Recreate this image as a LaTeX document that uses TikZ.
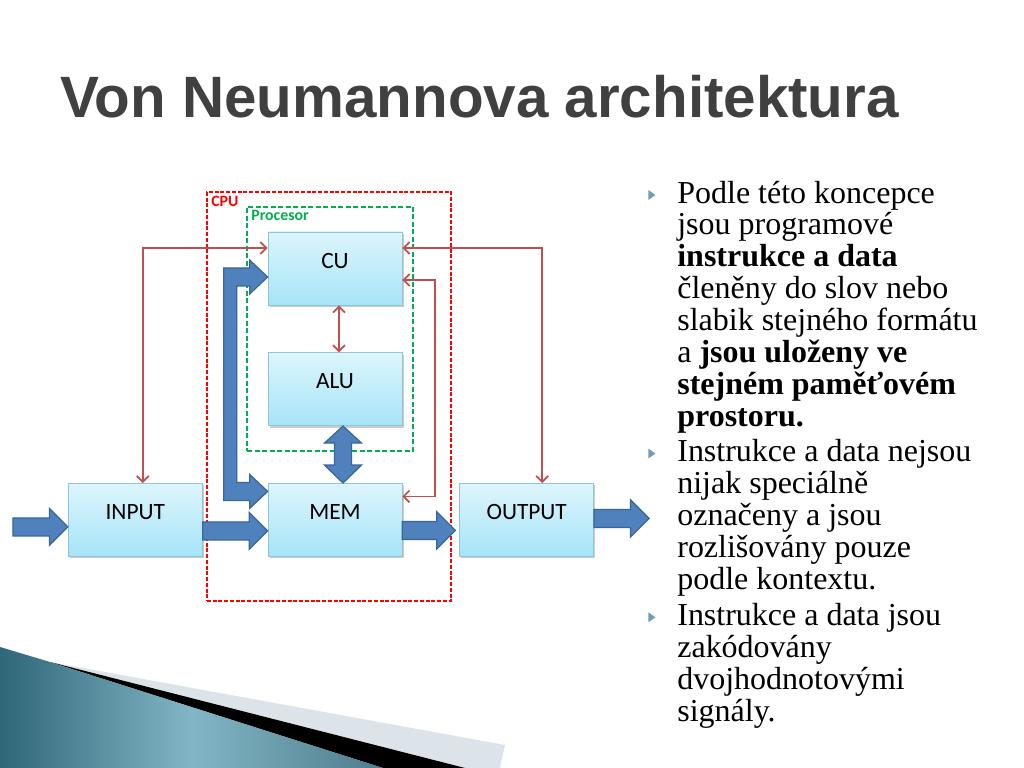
\documentclass[tikz,border=0pt]{standalone}
\usepackage{fontspec}
\setmainfont{Liberation Serif}
\newfontfamily\calibri{Carlito}
\newfontfamily\arialfont{Liberation Sans}
\usepackage{xcolor}
\usetikzlibrary{arrows.meta, positioning, calc, shadows, shapes.geometric}

\definecolor{boxtop}{HTML}{DDF5FC}
\definecolor{boxbot}{HTML}{A6E4F7}
\definecolor{boxline}{HTML}{8CC6DA}
\definecolor{sigred}{HTML}{C0504D}
\definecolor{busfill}{HTML}{4F81BD}
\definecolor{busline}{HTML}{3A6599}
\definecolor{cpured}{HTML}{FF0000}
\definecolor{procgreen}{HTML}{00B050}
\definecolor{titlegray}{HTML}{404040}
\definecolor{bulcol}{HTML}{6E9FB4}
\definecolor{tealdark}{HTML}{2F6678}
\definecolor{teallight}{HTML}{82B6C6}
\definecolor{bandgray}{HTML}{DCE4E9}

% fat horizontal arrow from #1 to the x of #2
\newcommand{\fatarrow}[2]{%
  \path[fat] let \p1=(#1), \p2=(#2) in
    ({\x1},{\y1+1.8mm}) -- ({\x2-3.7mm},{\y1+1.8mm}) -- ({\x2-3.7mm},{\y1+3.7mm})
    -- ({\x2},{\y1}) -- ({\x2-3.7mm},{\y1-3.7mm}) -- ({\x2-3.7mm},{\y1-1.8mm})
    -- ({\x1},{\y1-1.8mm}) -- cycle;}

\begin{document}
\begin{tikzpicture}[
        x=0.2mm, y=-0.2mm,
        box/.style={rectangle, draw=boxline, top color=boxtop, bottom color=boxbot, minimum width=26.8mm, minimum height=14.6mm, inner sep=0pt, text depth=3.2mm, font=\calibri\fontsize{13.3}{15}\selectfont, drop shadow={shadow xshift=0.3mm, shadow yshift=-0.4mm, fill=black, opacity=0.2}},
        cpubox/.style={rectangle, draw=cpured, line width=0.4mm, dash pattern=on 0.8mm off 0.35mm},
        procbox/.style={rectangle, draw=procgreen, line width=0.4mm, dash pattern=on 1mm off 0.5mm},
        tag/.style={anchor=north west, inner sep=0pt, font=\calibri\bfseries\fontsize{9}{10}\selectfont},
        sig/.style={draw=sigred, line width=0.35mm, {Straight Barb[length=1.2mm,width=2.4mm]}-{Straight Barb[length=1.2mm,width=2.4mm]}},
        fat/.style={fill=busfill, draw=busline, line width=0.25mm, line join=miter},
        title/.style={anchor=base, text=titlegray, font=\arialfont\bfseries\fontsize{33.2}{36}\selectfont},
        item/.style={align=left, anchor=north west, inner sep=0pt, font=\fontsize{18.2}{18.15}\selectfont},
        bul/.style={isosceles triangle, isosceles triangle apex angle=70, fill=bulcol, inner sep=0pt, minimum height=1.4mm}
    ]
        \useasboundingbox[fill=white] (0,0) rectangle (1024,768);

        % bottom swoosh
        \fill[bandgray] (50,662) -- (505,745) -- (500,768) -- (0,768) -- cycle;
        \fill[black] (50,662) -- (465,768) -- (383,768) -- cycle;
        \shade[left color=tealdark, right color=tealdark!85, middle color=teallight] (0,647) -- (50,662) -- (383,768) -- (0,768) -- cycle;

        \node [title] (head) at (479.5,118) {Von Neumannova architektura};

        % containers
        \node [cpubox, minimum width=48.8mm, minimum height=81.8mm] (cpu) at (329,396.5) {};
        \node [procbox, minimum width=33.2mm, minimum height=48.8mm] (proc) at (330,329) {};
        \node [tag, text=cpured] (cputag) at ([xshift=1mm,yshift=-0.9mm]cpu.north west) {CPU};
        \node [tag, text=procgreen] (proctag) at ([xshift=1mm,yshift=-0.8mm]proc.north west) {Procesor};

        % units
        \node [box] (cu) at (335,268.5) {CU};
        \node [box, below=9.4mm of cu] (alu) {ALU};
        \node [box, below=11.4mm of alu] (mem) {MEM};
        \node [box, left=13mm of mem] (input) {INPUT};
        \node [box, right=11.4mm of mem] (output) {OUTPUT};

        % data paths
        \fatarrow{[xshift=-11mm,yshift=-1.4mm]input.west}{input.west}
        \fatarrow{[yshift=-2.2mm]input.east}{mem.west}
        \fatarrow{[yshift=-2.1mm]mem.east}{[xshift=-0.8mm]output.west}
        \fatarrow{[yshift=0.3mm]output.east}{[xshift=11mm]output.east}
        \path [fat] let \p1=([yshift=-1.7mm]cu.west), \p2=([yshift=5.7mm]mem.west) in
            ({\x1-8.8mm},{\y1+1.8mm}) -- ({\x1-3.6mm},{\y1+1.8mm}) -- ({\x1-3.6mm},{\y1+3.4mm})
            -- (\p1) -- ({\x1-3.6mm},{\y1-3.4mm}) -- ({\x1-3.6mm},{\y1-1.8mm})
            -- ({\x1-6.2mm},{\y1-1.8mm}) -- ({\x1-6.2mm},{\y2+1.8mm}) -- ({\x1-3.6mm},{\y2+1.8mm})
            -- ({\x1-3.6mm},{\y2+3.4mm}) -- ({\x1},{\y2}) -- ({\x1-3.6mm},{\y2-3.4mm})
            -- ({\x1-3.6mm},{\y2-1.8mm}) -- ({\x1-8.8mm},{\y2-1.8mm}) -- cycle;
        \path [fat] let \p1=([xshift=1.6mm]alu.south), \p2=([xshift=1.6mm]mem.north) in
            (\p1) -- ({\x1+3.7mm},{\y1-3.4mm}) -- ({\x1+1.7mm},{\y1-3.4mm}) -- ({\x1+1.7mm},{\y2+3.6mm})
            -- ({\x1+3.7mm},{\y2+3.6mm}) -- ({\x1},{\y2}) -- ({\x1-3.7mm},{\y2+3.6mm})
            -- ({\x1-1.7mm},{\y2+3.6mm}) -- ({\x1-1.7mm},{\y1-3.4mm}) -- ({\x1-3.7mm},{\y1-3.4mm}) -- cycle;

        % control signals
        \draw [sig] ([xshift=1.5mm]input.north) |- ([yshift=4.1mm]cu.west);
        \draw [sig] ([yshift=4.1mm]cu.east) -| ([xshift=3.1mm]output.north);
        \draw [sig] ([yshift=-2.3mm]cu.east) -- ++(6.6mm,0) |- ([yshift=4.7mm]mem.east);
        \draw [sig] ([xshift=0.8mm]cu.south) -- ([xshift=0.8mm]alu.north);

        % text
        \node [item] (item1) at (677,180.5) {Podle této koncepce\\jsou programové\\\textbf{instrukce a data}\\členěny do slov nebo\\slabik stejného formátu\\a \textbf{jsou uloženy ve}\\\textbf{stejném paměťovém}\\\textbf{prostoru.}};
        \node [item, below=1.1mm of item1.south west, anchor=north west] (item2) {Instrukce a data nejsou\\nijak speciálně\\označeny a jsou\\rozlišovány pouze\\podle kontextu.};
        \node [item, below=1.3mm of item2.south west, anchor=north west] (item3) {Instrukce a data jsou\\zakódovány\\dvojhodnotovými\\signály.};
        \node [bul] (dot1) at ([xshift=-5.2mm,yshift=-2.9mm]item1.north west) {};
        \node [bul] (dot2) at ([xshift=-5.2mm,yshift=-2.9mm]item2.north west) {};
        \node [bul] (dot3) at ([xshift=-5.2mm,yshift=-2.9mm]item3.north west) {};
    \end{tikzpicture}
\end{document}
